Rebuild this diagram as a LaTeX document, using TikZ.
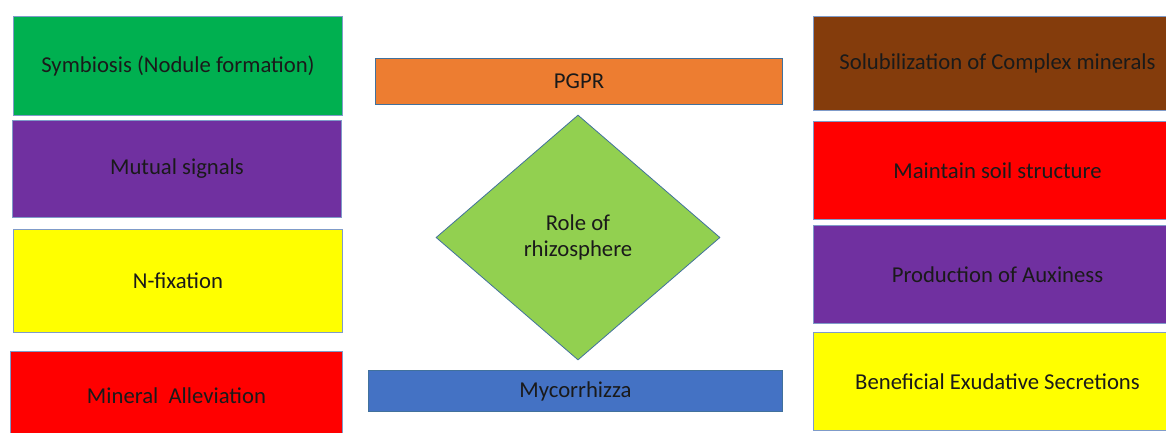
\documentclass[tikz,border=0pt]{standalone}
\usepackage{fontspec}
\setmainfont{Carlito}
\usetikzlibrary{shapes.geometric}
\definecolor{cgreen}{HTML}{00B050}
\definecolor{cpurple}{HTML}{7030A0}
\definecolor{cyellow}{HTML}{FFFF00}
\definecolor{cred}{HTML}{FF0000}
\definecolor{corange}{HTML}{ED7D31}
\definecolor{clime}{HTML}{92D050}
\definecolor{cblue}{HTML}{4472C4}
\definecolor{cbrown}{HTML}{843C0C}
\definecolor{cedge}{HTML}{7F9BC9}
\definecolor{cdedge}{HTML}{41719C}
\definecolor{ctext}{HTML}{1A1A1A}
\tikzset{
  box/.style={draw=cedge, line width=1pt, rectangle, inner sep=0pt, anchor=north west,
    text=ctext, font=\fontsize{22.7}{26}\selectfont, align=center},
}
\begin{document}
\begin{tikzpicture}[x=1pt,y=-1pt]
\useasboundingbox (0,0) rectangle (1166,432);
\fill[white] (0,0) rectangle (1166,432);
% left column
\node[box, fill=cgreen, minimum width=329pt, minimum height=99pt] (sym) at (13,16) {Symbiosis (Nodule formation)};
\node[box, fill=cpurple, minimum width=329pt, minimum height=97pt] (mut) at (12,120) {Mutual signals};
\node[box, fill=cyellow, minimum width=329pt, minimum height=103pt] (nfix) at (13,229) {N-fixation};
\node[box, fill=cred, minimum width=332pt, minimum height=88pt] (min) at (10,351) {Mineral\ \ Alleviation};
% centre
\node[box, fill=corange, draw=cdedge, minimum width=407pt, minimum height=46pt] (pgpr) at (375,58) {PGPR};
\node[draw=cdedge, line width=0.8pt, fill=clime, diamond, inner sep=0pt, minimum width=284pt, minimum height=245pt,
  text=ctext, font=\fontsize{22.7}{25.5}\selectfont, align=center] (role) at (578,237.5) {Role of\\rhizosphere};
\node[box, fill=cblue, draw=cdedge, minimum width=414pt, minimum height=41pt] (myc) at (368,370) {Mycorrhizza};
% right column
\node[box, fill=cbrown, minimum width=368pt, minimum height=94pt] (sol) at (813,16) {Solubilization of Complex minerals};
\node[box, fill=cred, minimum width=368pt, minimum height=98pt] (soil) at (813,121) {Maintain soil structure};
\node[box, fill=cpurple, minimum width=368pt, minimum height=98pt] (aux) at (813,225) {Production of Auxiness};
\node[box, fill=cyellow, minimum width=368pt, minimum height=98pt] (exu) at (813,332) {Beneficial Exudative Secretions};
\end{tikzpicture}
\end{document}
